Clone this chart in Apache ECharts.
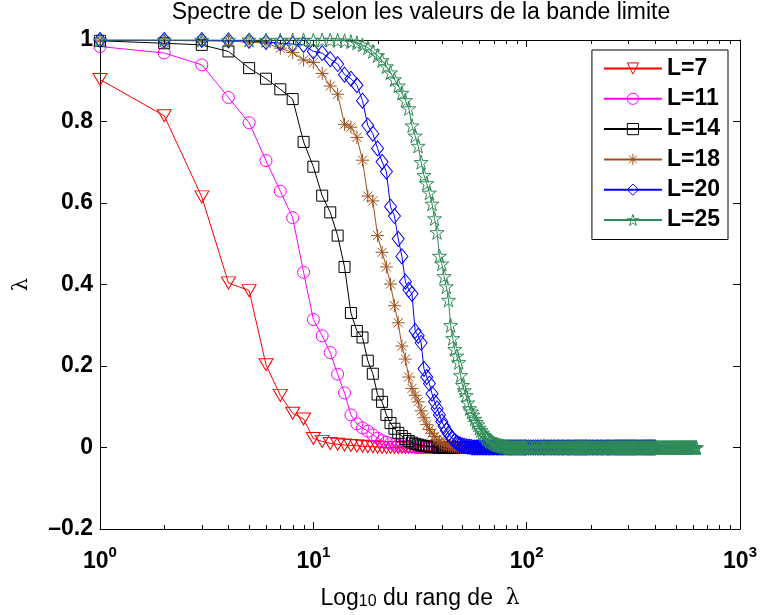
<!DOCTYPE html>
<html>
<head>
<meta charset="utf-8">
<script src="https://cdn.jsdelivr.net/npm/echarts@6/dist/echarts.min.js"></script>
<style>
  html, body { margin: 0; padding: 0; background: #fff; }
  #chart { width: 760px; height: 615px; }
</style>
</head>
<body>
<div id="chart"></div>
<script>
// valeurs propres, rang 1, 2, 3, ...
const lambdaL7 = [0.903, 0.814, 0.615, 0.404, 0.385, 0.203, 0.128, 0.084, 0.070, 0.022,
  0.015, 0.010, 0.008, 0.006, 0.005, 0.004, 0.003, 0.002, 0.002, 0.001];
const lambdaL11 = [0.984, 0.968, 0.939, 0.859, 0.797, 0.704, 0.629, 0.564, 0.430, 0.314,
  0.274, 0.233, 0.180, 0.134, 0.080, 0.058, 0.048, 0.040, 0.031, 0.023,
  0.017, 0.013, 0.010, 0.007, 0.005, 0.004, 0.003, 0.002, 0.002, 0.001];
const lambdaL14 = [0.998, 0.992, 0.988, 0.972, 0.931, 0.905, 0.879, 0.855, 0.750, 0.689,
  0.618, 0.577, 0.520, 0.443, 0.330, 0.286, 0.270, 0.213, 0.181, 0.130,
  0.112, 0.080, 0.060, 0.046, 0.036, 0.028, 0.021, 0.016, 0.012, 0.009,
  0.007, 0.005, 0.004, 0.003, 0.002, 0.002, 0.001];
const lambdaL18 = [1.000, 0.999, 0.998, 0.997, 0.995, 0.992, 0.980, 0.969, 0.951, 0.945,
  0.918, 0.887, 0.867, 0.793, 0.786, 0.761, 0.705, 0.617, 0.605, 0.520,
  0.479, 0.443, 0.401, 0.348, 0.306, 0.249, 0.217, 0.173, 0.145, 0.128,
  0.112, 0.090, 0.073, 0.056, 0.044, 0.035, 0.027, 0.020, 0.015, 0.011,
  0.008, 0.006, 0.004, 0.003, 0.002, 0.002, 0.001];
const lambdaL20 = [1.000, 1.000, 1.000, 0.999, 0.998, 0.995, 0.992, 0.990, 0.988, 0.972,
  0.968, 0.953, 0.941, 0.915, 0.905, 0.889, 0.851, 0.790, 0.770, 0.734,
  0.701, 0.677, 0.591, 0.568, 0.512, 0.469, 0.407, 0.387, 0.377, 0.286,
  0.274, 0.257, 0.193, 0.173, 0.157, 0.132, 0.112, 0.096, 0.080, 0.064,
  0.052, 0.042, 0.034, 0.027, 0.021, 0.016, 0.012, 0.009, 0.007, 0.005,
  0.004, 0.003, 0.002, 0.002, 0.001];
const lambdaL25 = [1.000, 1.000, 1.000, 1.000, 1.000, 1.000, 1.000, 1.000, 1.000, 1.000,
  1.000, 1.000, 0.999, 0.998, 0.996, 0.993, 0.988, 0.981, 0.972, 0.962,
  0.950, 0.935, 0.920, 0.903, 0.888, 0.870, 0.852, 0.832, 0.790, 0.765,
  0.740, 0.700, 0.668, 0.648, 0.625, 0.598, 0.562, 0.528, 0.470, 0.451,
  0.420, 0.395, 0.362, 0.300, 0.268, 0.241, 0.225, 0.209, 0.177, 0.153,
  0.140, 0.128, 0.110, 0.096, 0.088, 0.080, 0.070, 0.062, 0.056, 0.048,
  0.042, 0.036, 0.031, 0.027, 0.023, 0.020, 0.017, 0.015, 0.013, 0.011,
  0.009, 0.008, 0.007, 0.006, 0.005, 0.004, 0.003, 0.003, 0.002, 0.002];

// rangs de la queue (valeurs ~0), et nombre de valeurs propres de chaque courbe
const tailRanks = [10, 11, 12, 13, 14, 15, 16, 17, 18, 19, 20, 21, 22, 23, 24, 25, 26, 27, 28, 29,
  30, 31, 32, 33, 34, 35, 36, 37, 38, 39, 40, 41, 42, 43, 44, 45, 46, 47, 48, 49,
  50, 51, 52, 53, 54, 55, 56, 57, 58, 59, 60, 61, 62, 63, 64, 65, 66, 67, 68, 69,
  70, 71, 72, 73, 74, 75, 76, 77, 78, 79, 80, 81, 82, 83, 84, 85, 86, 87, 88, 89,
  90, 91, 92, 93, 94, 95, 96, 97, 98, 99, 100, 102, 104, 106, 108, 110, 112, 114, 116, 118,
  120, 121, 123, 125, 127, 129, 131, 133, 135, 137, 139, 141, 143, 145, 147, 149, 151, 153, 155, 157,
  159, 161, 163, 165, 167, 169, 171, 173, 175, 177, 179, 181, 183, 185, 187, 189, 191, 193, 196, 198,
  200, 203, 206, 209, 212, 215, 218, 221, 224, 227, 230, 233, 236, 239, 242, 245, 248, 251, 254, 257,
  260, 263, 266, 269, 272, 275, 278, 281, 284, 287, 290, 293, 296, 299, 302, 305, 308, 311, 314, 317,
  320, 324, 328, 332, 336, 340, 344, 348, 352, 356, 360, 364, 368, 372, 376, 380, 384, 388, 392, 396,
  400, 405, 410, 415, 420, 425, 430, 435, 440, 445, 450, 455, 460, 465, 470, 475, 480, 485, 490, 495,
  500, 505, 510, 515, 520, 525, 530, 535, 540, 545, 550, 555, 560, 565, 570, 575, 580, 585, 590, 595,
  600, 605, 610, 615, 620, 625];
const bandSizes = [49, 121, 196, 324, 400, 625];
const bandNames = ['L=7', 'L=11', 'L=14', 'L=18', 'L=20', 'L=25'];
const bandColors = ['#ff0000', '#ff00ff', '#000000', '#a0501e', '#0000ff', '#2e8b57'];
const minorTickRanks = [2, 3, 4, 5, 6, 7, 8, 9, 20, 30, 40, 50, 60, 70, 80, 90,
  200, 300, 400, 500, 600, 700, 800, 900];

const heads = [lambdaL7, lambdaL11, lambdaL14, lambdaL18, lambdaL20, lambdaL25];

const markerShapes = [
  { symbol: 'path://M0,0L2,0L1,1.7Z', size: [14, 12] },
  { symbol: 'circle', size: 12 },
  { symbol: 'rect', size: 11 },
  { symbol: 'path://M0,-1L0,1M-1,0L1,0M-0.7,-0.7L0.7,0.7M-0.7,0.7L0.7,-0.7', size: 13 },
  { symbol: 'diamond', size: [12, 15] },
  { symbol: 'path://M0,-1L0.2234,-0.3074L0.9511,-0.309L0.3614,0.1174L0.5878,0.809L0,0.38L-0.5878,0.809L-0.3614,0.1174L-0.9511,-0.309L-0.2234,-0.3074Z', size: 14 }
];

const FONT = '"Liberation Sans", Arial, Helvetica, sans-serif';

function buildSeriesData(head, size) {
  var pts = head.map(function(v, i) { return [i + 1, v]; });
  tailRanks.forEach(function(r) {
    if (r > head.length && r <= size) pts.push([r, 0]);
  });
  return pts;
}

var series = heads.map(function(head, k) {
  return {
    name: bandNames[k],
    type: 'line',
    data: buildSeriesData(head, bandSizes[k]),
    symbol: markerShapes[k].symbol,
    symbolSize: markerShapes[k].size,
    showAllSymbol: true,
    lineStyle: { color: bandColors[k], width: 1 },
    itemStyle: { color: 'rgba(0,0,0,0)', borderColor: bandColors[k], borderWidth: 1 },
    emphasis: { disabled: true },
    z: 2 + k
  };
});

// petites graduations de l'axe log (haut et bas)
series.push({
  type: 'custom',
  silent: true,
  clip: false,
  z: 20,
  data: minorTickRanks.map(function(r) { return [r, 0]; }),
  encode: { x: 0, y: 1 },
  renderItem: function(params, api) {
    var bot = api.coord([api.value(0), -0.2]);
    var top = api.coord([api.value(0), 1]);
    var x = Math.round(bot[0]) + 0.5;
    return {
      type: 'group',
      children: [
        { type: 'line', shape: { x1: x, y1: bot[1], x2: x, y2: bot[1] - 4 }, style: { stroke: '#000', lineWidth: 1 } },
        { type: 'line', shape: { x1: x, y1: top[1], x2: x, y2: top[1] + 4 }, style: { stroke: '#000', lineWidth: 1 } }
      ]
    };
  }
});

function xLabel(v) {
  var e = Math.round(Math.log10(v));
  return '{b|10}{s|' + e + '}';
}

function yLabel(v) {
  var s = String(Math.round(v * 10) / 10);
  return s.replace('-', '\u2013');
}

var axisCommon = {
  axisLine: { show: true, onZero: false, lineStyle: { color: '#000', width: 1 } },
  axisTick: { show: true, inside: true, length: 7, lineStyle: { color: '#000', width: 1 } },
  splitLine: { show: false }
};

var option = {
  animation: false,
  backgroundColor: '#fff',
  title: {
    text: 'Spectre de D selon les valeurs de la bande limite',
    left: 421,
    textAlign: 'center',
    top: 1,
    padding: 0,
    textStyle: { fontFamily: FONT, fontSize: 23, fontWeight: 'normal', color: '#000' }
  },
  grid: { left: 100, right: 17, top: 40, bottom: 79, containLabel: false },
  legend: {
    data: bandNames,
    orient: 'vertical',
    right: 32,
    top: 50,
    padding: [7, 8, 8, 11],
    itemWidth: 58,
    itemHeight: 14,
    itemGap: 7.3,
    itemStyle: { color: 'rgba(0,0,0,0)', borderWidth: 1 },
    backgroundColor: '#fff',
    borderColor: '#000',
    borderWidth: 1,
    textStyle: { fontFamily: FONT, fontSize: 23, fontWeight: 'bold', color: '#000', lineHeight: 22 }
  },
  xAxis: [
    Object.assign({}, axisCommon, {
      type: 'log', logBase: 10, min: 1, max: 1000, position: 'bottom',
      axisLabel: {
        margin: 16,
        formatter: xLabel,
        rich: {
          b: { fontFamily: FONT, fontSize: 23, fontWeight: 'bold', color: '#000', lineHeight: 28, verticalAlign: 'bottom' },
          s: { fontFamily: FONT, fontSize: 15, fontWeight: 'bold', color: '#000', lineHeight: 15, verticalAlign: 'top' }
        }
      },
      name: 'Log{sub|10} du rang de  {l|λ}',
      nameLocation: 'middle',
      nameGap: 58,
      nameTextStyle: {
        fontFamily: FONT, fontSize: 23, color: '#000',
        rich: {
          sub: { fontFamily: FONT, fontSize: 16, color: '#000', verticalAlign: 'bottom', lineHeight: 16, padding: [11, 0, 0, 0] },
          l: { fontFamily: '"DejaVu Serif", "Liberation Serif", serif', fontSize: 22, color: '#000' }
        }
      }
    }),
    Object.assign({}, axisCommon, {
      type: 'log', logBase: 10, min: 1, max: 1000, position: 'top',
      axisLabel: { show: false }
    })
  ],
  yAxis: [
    Object.assign({}, axisCommon, {
      type: 'value', min: -0.2, max: 1, interval: 0.2, position: 'left',
      axisLabel: { margin: 7, formatter: yLabel, fontFamily: FONT, fontSize: 23, fontWeight: 'bold', color: '#000' },
      name: 'λ',
      nameLocation: 'middle',
      nameRotate: 90,
      nameGap: 68,
      nameTextStyle: { fontFamily: '"DejaVu Serif", "Liberation Serif", serif', fontSize: 21, color: '#000' }
    }),
    Object.assign({}, axisCommon, {
      type: 'value', min: -0.2, max: 1, interval: 0.2, position: 'right',
      axisLabel: { show: false }
    })
  ],
  series: series
};

var chart = echarts.init(document.getElementById('chart'));
chart.setOption(option);
</script>
</body>
</html>
